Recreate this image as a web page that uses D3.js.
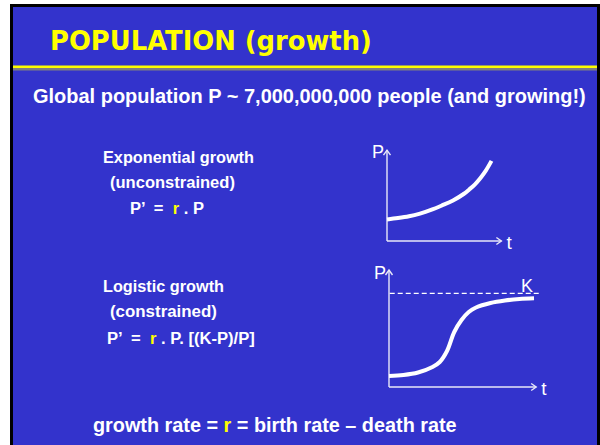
<!DOCTYPE html>
<html>
<head>
<meta charset="utf-8">
<script src="https://cdn.jsdelivr.net/npm/d3@7"></script>
<style>
  html, body { margin: 0; padding: 0; background: #fff; }
  svg { display: block; }
  text { white-space: pre; }
</style>
</head>
<body>
<div id="slide"></div>
<script>
// 指数增长曲线 (t, P)
const expT = [0, 1, 2, 3, 4, 5, 6, 7, 7.5, 8, 8.5, 9, 9.5];
const expP = [2.4, 2.55, 2.75, 3.05, 3.45, 3.95, 4.5, 5.25, 5.75, 6.3, 7.0, 7.85, 8.9];

// 逻辑斯蒂增长曲线 (t, P)
const logT = [0, 1, 2, 3, 3.5, 4, 4.5, 5, 5.5, 6, 7, 8, 9, 10];
const logP = [11, 12, 14.5, 20, 25, 36, 55, 67, 75, 79.5, 84, 86.5, 88, 88.7];
const capacityK = 93.7;

// 文字
const titleText = "POPULATION (growth)";
const subtitleText = "Global population P ~ 7,000,000,000 people (and growing!)";
const expLines = ["Exponential growth", "(unconstrained)"];
const logLines = ["Logistic growth", "(constrained)"];

const W = 600, H = 445;
const blue = "#3333cc", yellow = "#ffff00", white = "#ffffff", axisCol = "#e8e8f8";
const sans = "'Liberation Sans', Arial, sans-serif";

const svg = d3.select("#slide").append("svg")
    .attr("width", W).attr("height", H);

// 背景与边框
svg.append("rect").attr("width", W).attr("height", H).attr("fill", "#fff");
svg.append("rect").attr("x", 10).attr("y", 4).attr("width", 590).attr("height", 441).attr("fill", "#000");
svg.append("rect").attr("x", 13).attr("y", 7).attr("width", 584).attr("height", 438).attr("fill", blue);

// 标题下的分隔线
svg.append("rect").attr("x", 13).attr("y", 65.5).attr("width", 584).attr("height", 2.5).attr("fill", yellow);
svg.append("rect").attr("x", 13).attr("y", 68).attr("width", 584).attr("height", 2.5).attr("fill", "#808080");

// 文字辅助函数：按目标宽度调整字号
function addText(x, y, parts, size, width, family, color) {
    const t = svg.append("text")
        .attr("x", x).attr("y", y)
        .attr("font-family", family || sans)
        .attr("font-weight", "bold")
        .attr("font-size", size)
        .attr("fill", color || white);
    (Array.isArray(parts) ? parts : [[parts, null]]).forEach(p => {
        t.append("tspan").attr("fill", p[1] || (color || white)).text(p[0]);
    });
    if (width) {
        const w = t.node().getComputedTextLength();
        if (w > 0) t.attr("font-size", size * width / w);
    }
    return t;
}

addText(50, 49.5, titleText, 29, 322, "'DejaVu Sans', sans-serif", yellow);
addText(33, 103, subtitleText, 18, 553);

addText(103, 163, expLines[0], 15, 151);
addText(110, 188, expLines[1], 15, 125);
addText(130, 214, [["P\u2019  =  ", null], ["r", yellow], [" . P", null]], 15, 74);

addText(103, 292, logLines[0], 15, 121);
addText(110, 317, logLines[1], 15, 107);
addText(107, 344, [["P\u2019  =  ", null], ["r", yellow], [" . P. [(K-P)/P]", null]], 15, 148);

addText(93, 432, [["growth rate = ", null], ["r", yellow], [" = birth rate \u2013 death rate", null]], 18, 364);

// 箭头
function arrowHead(g, x, y, dir) {
    const s = 5, w = 3.5;
    const pts = dir === "up"
        ? [[x - w, y + s], [x, y], [x + w, y + s]]
        : [[x - s, y - w], [x, y], [x - s, y + w]];
    g.append("path").attr("d", d3.line()(pts))
        .attr("fill", "none").attr("stroke", axisCol).attr("stroke-width", 1.4);
}

function drawPanel(cfg) {
    const g = svg.append("g");
    const x = d3.scaleLinear().domain([0, 10]).range(cfg.xRange);
    const y = d3.scaleLinear().domain(cfg.yDomain).range(cfg.yRange);

    const x0 = x(0), y0 = y(0);
    const xEnd = x(cfg.tMax), yEnd = y(cfg.pMax);

    // 坐标轴
    g.append("line").attr("x1", x0).attr("y1", y0).attr("x2", x0).attr("y2", yEnd)
        .attr("stroke", axisCol).attr("stroke-width", 1.4);
    g.append("line").attr("x1", x0).attr("y1", y0).attr("x2", xEnd).attr("y2", y0)
        .attr("stroke", axisCol).attr("stroke-width", 1.4);
    arrowHead(g, x0, yEnd, "up");
    arrowHead(g, xEnd, y0, "right");

    g.append("text").attr("x", x0 - 15).attr("y", yEnd + cfg.pLabelDy)
        .attr("font-family", sans).attr("font-size", 18).attr("fill", white).text("P");
    g.append("text").attr("x", xEnd + 5).attr("y", y0 + 8)
        .attr("font-family", sans).attr("font-size", 19).attr("fill", white).text("t");

    // 承载能力 K
    if (cfg.k != null) {
        g.append("line")
            .attr("x1", x(0.05)).attr("x2", x(10.4))
            .attr("y1", y(cfg.k)).attr("y2", y(cfg.k))
            .attr("stroke", white).attr("stroke-width", 1.2)
            .attr("stroke-dasharray", "5,3");
        g.append("text").attr("x", x(9.1)).attr("y", y(cfg.k) - 1.5)
            .attr("font-family", sans).attr("font-size", 18).attr("fill", white).text("K");
    }

    // 曲线
    const pts = cfg.t.map((t, i) => [t, cfg.p[i]]);
    g.append("path").datum(pts)
        .attr("fill", "none").attr("stroke", white).attr("stroke-width", 4)
        .attr("d", d3.line().x(d => x(d[0])).y(d => y(d[1])).curve(d3.curveCatmullRom.alpha(0.5)));
}

drawPanel({
    t: expT, p: expP,
    xRange: [387, 497], yDomain: [0, 10], yRange: [241, 151],
    tMax: 10.4, pMax: 10.1, pLabelDy: 8
});

drawPanel({
    t: logT, p: logP, k: capacityK,
    xRange: [389, 534], yDomain: [0, 100], yRange: [387, 287],
    tMax: 10.15, pMax: 117, pLabelDy: 9
});
</script>
</body>
</html>
